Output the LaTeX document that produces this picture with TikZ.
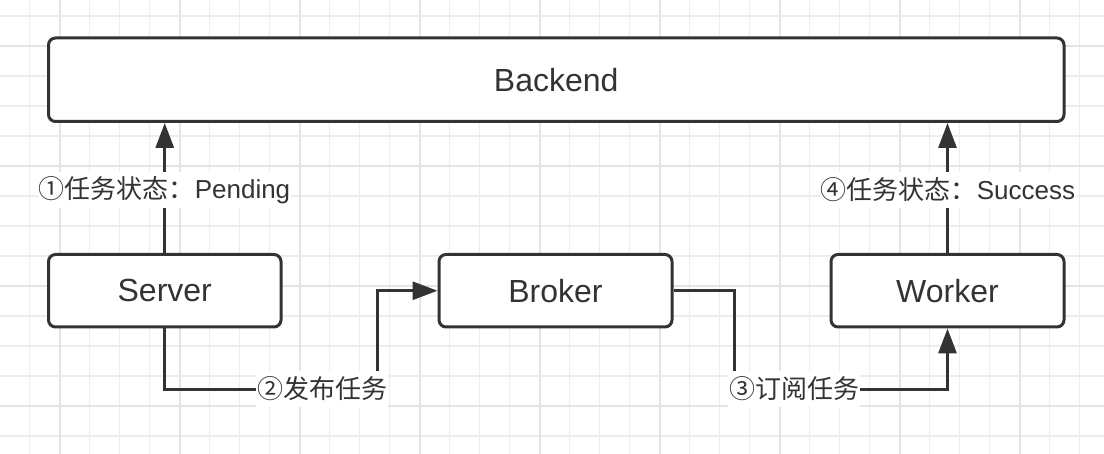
\documentclass[tikz,border=0pt]{standalone}
\usepackage{fontspec}
\setmainfont{Liberation Sans}
\newfontfamily\cjk{Noto Sans CJK SC}
\usetikzlibrary{arrows.meta,calc}
\definecolor{ink}{HTML}{333333}
\definecolor{gridminor}{HTML}{EDEDED}
\definecolor{gridmajor}{HTML}{E4E4E4}
\begin{document}
\begin{tikzpicture}[x=1pt,y=-1pt,
  box/.style={draw=ink, line width=3pt, rounded corners=7pt, fill=white, text=ink,
    font=\fontsize{32}{38}\selectfont, inner sep=0pt},
  conn/.style={draw=ink, line width=3pt, -{Triangle[length=25pt,width=18pt]}},
  lbl/.style={fill=white, text=ink, font=\fontsize{26}{31}\selectfont,
    inner xsep=1pt, inner ysep=0pt, minimum height=36pt},
  gminor/.style={draw=gridminor, line width=1.5pt},
  gmajor/.style={draw=gridmajor, line width=2pt},
]
\useasboundingbox (0,0) rectangle (1104,454);
\fill[white] (0,0) rectangle (1104,454);
% grid
\foreach \i in {0,...,35} \draw[gminor] ({29.5+30*\i},0) -- ({29.5+30*\i},454);
\foreach \j in {0,...,14} \draw[gminor] (0,{16+30*\j}) -- (1104,{16+30*\j});
\foreach \i in {0,...,8} \draw[gmajor] ({59.5+120*\i},0) -- ({59.5+120*\i},454);
\foreach \j in {0,...,3} \draw[gmajor] (0,{46+120*\j}) -- (1104,{46+120*\j});
% nodes
\node[box, minimum width=1015.5pt, minimum height=83.5pt] (backend) at (556.25,79.75) {Backend};
\node[box, minimum width=232.5pt, minimum height=72.5pt] (server) at (164.75,290.75) {Server};
\node[box, minimum width=233pt, minimum height=72.5pt] (broker) at (555.5,290.75) {Broker};
\node[box, minimum width=233pt, minimum height=72.5pt] (worker) at (947.5,290.75) {Worker};
% connectors
\draw[conn] (server.north) -- (server.north |- backend.south);
\draw[conn] (server.south) -- ++(0,61) -| ($(broker.west)+(-60,0)$) -- (broker.west);
\draw[conn] (broker.east) -- ++(61,0) |- ($(worker.south)+(0,61)$) -- (worker.south);
\draw[conn] (worker.north) -- (worker.north |- backend.south);
% labels
\node[lbl] (l1) at (164.5,190) {{\cjk ①任务状态：}Pending};
\node[lbl] (l2) at (322,389) {{\cjk ②发布任务}};
\node[lbl] (l3) at (794,389) {{\cjk ③订阅任务}};
\node[lbl] (l4) at (948,190) {{\cjk ④任务状态：}Success};
\end{tikzpicture}
\end{document}
